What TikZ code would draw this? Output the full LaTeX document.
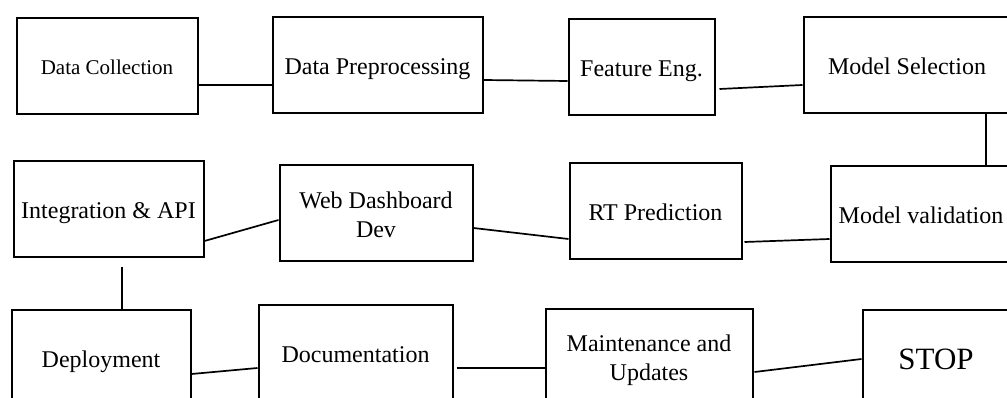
\documentclass[tikz,border=0pt]{standalone}
\usepackage{fontspec}
\setmainfont{Liberation Serif}
\begin{document}
\begin{tikzpicture}[x=1pt,y=-1pt]
		\tikzstyle{box}=[rectangle,draw,align=center,line width=2pt,inner sep=0,minimum height=96pt,text height=19pt,text depth=0pt,font=\fontsize{24}{29}\selectfont]
		\tikzstyle{twoline}=[text height=48pt]
		\tikzstyle{edge}=[line width=1.7pt]
		
		\useasboundingbox (0,0) rectangle (1007,398);
		\clip (0,0) rectangle (1007,398);
		
		% first row
		\node [box, minimum width=181pt, text height=17pt, font=\fontsize{21}{25}\selectfont] (dc) at (107, 66.5) {Data Collection};
		\node [box, minimum width=210pt] (dp) at (377.5, 65)  {Data Preprocessing};
		\node [box, minimum width=146pt] (fe) at (641.5, 67.5) {Feature Eng.};
		\node [box, minimum width=207pt] (ms) at (907, 65.5)  {Model Selection};
		
		% second row
		\node [box, minimum width=190pt] (ia) at (108.5, 209)  {Integration \& API};
		\node [box, twoline, minimum width=193pt] (wd) at (376, 213.5)  {Web Dashboard\\Dev};
		\node [box, minimum width=172pt] (rt) at (655.5, 211)  {RT Prediction};
		\node [box, minimum width=181pt] (mv) at (921, 214.5)  {Model validation};
		
		% third row
		\node [box, minimum width=179pt] (dep) at (101, 357.5)  {Deployment};
		\node [box, minimum width=194pt] (doc) at (355.5, 352.5) {Documentation};
		\node [box, twoline, minimum width=207pt] (mnt) at (649, 356.5)  {Maintenance and\\Updates};
		\node [box, minimum width=147pt, text height=23pt, font=\fontsize{31}{35}\selectfont] (stop) at (936, 357.5) {STOP};
		
		\draw[edge] ([yshift=-18.5pt]dc.east) -- ([yshift=-20pt]dp.west);
		\draw[edge] ([yshift=-15pt]dp.east) -- ([yshift=-13.5pt]fe.west);
		\draw[edge] ([xshift=4pt,yshift=-21.5pt]fe.east) -- ([yshift=-19.5pt]ms.west);
		\draw[edge] ([xshift=79pt]ms.south) -- ([xshift=65pt]mv.north);
		\draw[edge] ([yshift=-32pt]ia.east) -- ([yshift=-6.5pt]wd.west);
		\draw[edge] ([yshift=-14.5pt]wd.east) -- ([yshift=-28pt]rt.west);
		\draw[edge] ([xshift=2pt,yshift=-31pt]rt.east) -- ([yshift=-24.5pt]mv.west);
		\draw[edge] ([xshift=13.5pt,yshift=-9pt]ia.south) -- ([xshift=21pt]dep.north);
		\draw[edge] ([yshift=-16.5pt]dep.east) -- ([yshift=-15.5pt]doc.west);
		\draw[edge] ([xshift=3pt,yshift=-15.5pt]doc.east) -- ([yshift=-11.5pt]mnt.west);
		\draw[edge] ([xshift=1pt,yshift=-15.5pt]mnt.east) -- ([yshift=-1.5pt]stop.west);
	\end{tikzpicture}
\end{document}
